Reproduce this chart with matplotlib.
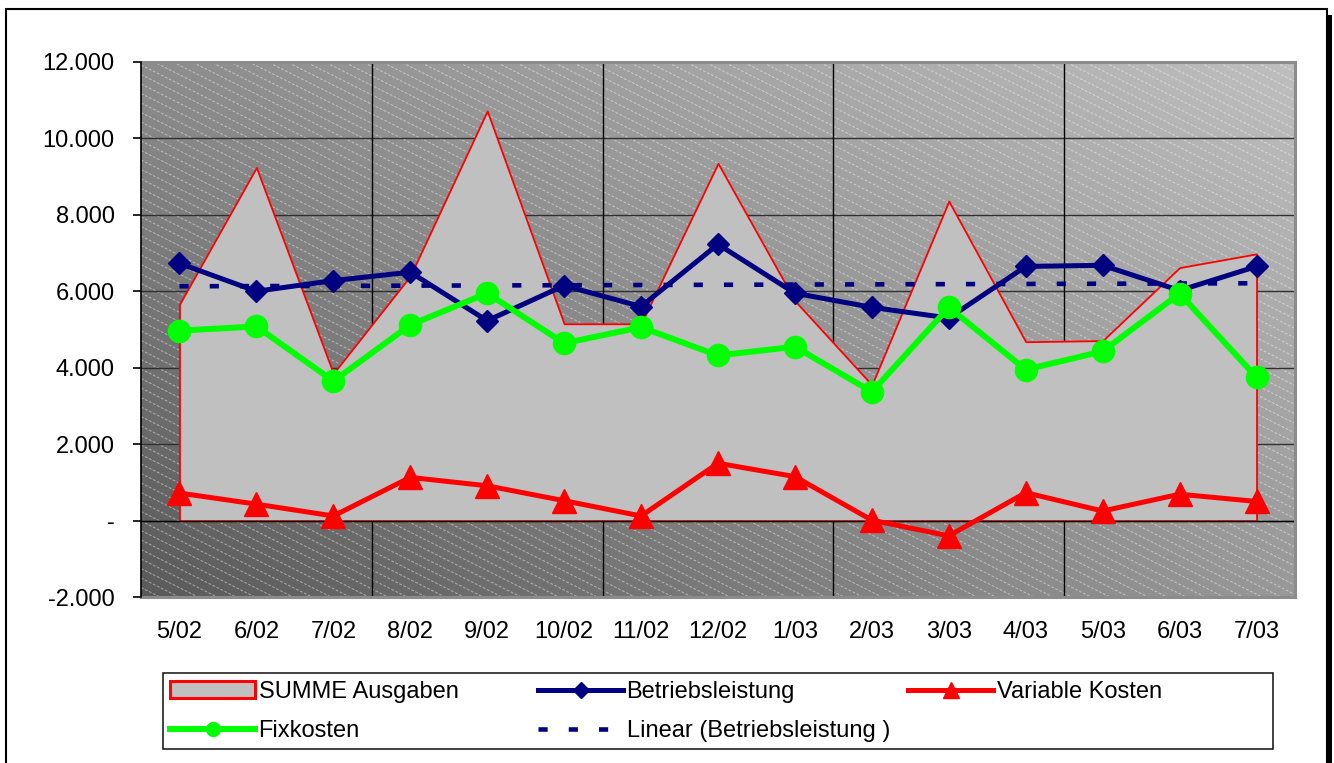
import numpy as np
import matplotlib
matplotlib.use('Agg')
import matplotlib.pyplot as plt
from matplotlib.collections import LineCollection
from matplotlib.patches import Rectangle, Patch
from matplotlib.lines import Line2D

plt.rcParams['font.family'] = ['Liberation Sans', 'DejaVu Sans']

# Daten
monate = ['5/02', '6/02', '7/02', '8/02', '9/02', '10/02', '11/02', '12/02',
          '1/03', '2/03', '3/03', '4/03', '5/03', '6/03', '7/03']
summe_ausgaben = [5660, 9240, 3850, 6400, 10720, 5150, 5150, 9350,
                  5750, 3550, 8360, 4680, 4710, 6620, 6980]
betriebsleistung = [6730, 6000, 6280, 6500, 5230, 6150, 5600, 7230,
                    5950, 5580, 5300, 6650, 6680, 6020, 6650]
variable_kosten = [720, 430, 120, 1130, 910, 520, 120, 1500,
                   1150, 10, -400, 730, 250, 690, 500]
fixkosten = [4970, 5080, 3650, 5120, 5950, 4640, 5060, 4320,
             4550, 3370, 5580, 3950, 4430, 5940, 3750]
y_ticks = [-2000, 0, 2000, 4000, 6000, 8000, 10000, 12000]
y_labels = ['-2.000', '-', '2.000', '4.000', '6.000', '8.000', '10.000', '12.000']

W, H = 1334, 763
fig = plt.figure(figsize=(W / 100, H / 100), dpi=100)
fig.patch.set_facecolor('white')

# Plotbereich
left, right, top, bottom = 141, 1295, 62, 597
ax = fig.add_axes([left / W, 1 - bottom / H, (right - left) / W, (bottom - top) / H])

x = np.arange(len(monate)) + 0.5

# Hintergrund: diagonaler Grauverlauf
gx, gy = np.meshgrid(np.linspace(0, 1, 200), np.linspace(0, 1, 200))
grad = 90 + 100 * (gx + gy) / 2 + 12 * gx * (1 - gy)
ax.imshow(grad, extent=[0, 15, -2000, 12000], origin='lower', aspect='auto',
          cmap='gray', vmin=0, vmax=255, zorder=0, interpolation='bilinear')

# feine helle Schraffur
aw, ah = right - left, bottom - top
segs = []
for c in np.arange(0, ah + 0.5 * aw + 10, 9.5):
    segs.append([(0, c / ah), (1, (c - 0.5 * aw) / ah)])
lc = LineCollection(segs, transform=ax.transAxes, colors=[(1, 1, 1, 0.42)],
                    linewidths=0.8, linestyles=(0, (2.5, 1.5)), zorder=0.5)
ax.add_collection(lc)

# Gitternetz
for yv in y_ticks[1:-1]:
    ax.axhline(yv, color='#303030', lw=1.0, zorder=1)
for xv in [3, 6, 9, 12]:
    ax.axvline(xv, color='black', lw=1.0, zorder=1)

# Flaeche SUMME Ausgaben
ax.fill_between(x, 0, summe_ausgaben, facecolor='#c0c0c0', edgecolor='red',
                lw=1.3, zorder=2)
ax.axhline(0, color='black', lw=1.0, zorder=2.1)

# Trendlinie
k, d = np.polyfit(x, betriebsleistung, 1)
ax.plot(x, k * x + d, color='#000080', lw=3.3, dashes=(2.0, 4.6),
        dash_capstyle='butt', zorder=3)

ax.plot(x, betriebsleistung, color='#000080', lw=3.6, marker='D', ms=11,
        zorder=4)
ax.plot(x, variable_kosten, color='red', lw=3.6, marker='^', ms=17, zorder=5)
ax.plot(x, fixkosten, color='#00ff00', lw=4.3, marker='o', ms=16, zorder=6)

ax.set_xlim(0, 15)
ax.set_ylim(-2000, 12000)
ax.set_xticks(x)
ax.set_xticklabels(monate, fontsize=17)
ax.set_yticks(y_ticks)
ax.set_yticklabels(y_labels, fontsize=17)
ax.tick_params(axis='x', length=0, pad=17)
ax.tick_params(axis='y', length=6, width=1.2, direction='out', pad=13, color='black')

for s in ['top', 'right', 'bottom']:
    ax.spines[s].set_color('#8c8c8c')
    ax.spines[s].set_linewidth(2.2)
ax.spines['left'].set_color('black')
ax.spines['left'].set_linewidth(1.2)
ax.spines['left'].set_zorder(10)

# Legende
h_summe = Patch(facecolor='#c0c0c0', edgecolor='red', lw=2.2)
h_betr = Line2D([], [], color='#000080', lw=3.6, marker='D', ms=8)
h_var = Line2D([], [], color='red', lw=3.6, marker='^', ms=12)
h_fix = Line2D([], [], color='#00ff00', lw=4.3, marker='o', ms=10)
h_lin = Line2D([], [], color='#000080', lw=3.3, dashes=(2.0, 4.6),
               dash_capstyle='butt')

spalten = [
    (170, [h_summe, h_fix], ['SUMME Ausgaben', 'Fixkosten']),
    (538, [h_betr, h_lin], ['Betriebsleistung', 'Linear (Betriebsleistung )']),
    (908, [h_var], ['Variable Kosten']),
]
for xp, hs, ls in spalten:
    leg = fig.legend(hs, ls, loc='upper left', bbox_to_anchor=(xp / W, 1 - 681 / H),
                     frameon=False, fontsize=17, handlelength=3.6,
                     handletextpad=0.15, labelspacing=0.72, borderpad=0,
                     borderaxespad=0)

fig.add_artist(Rectangle((163 / W, 1 - 749 / H), (1273 - 163) / W, (749 - 673) / H,
                         transform=fig.transFigure, fill=False, edgecolor='#202020',
                         lw=1.2))

# Rahmen des Diagramms mit Schatten
fig.add_artist(Rectangle((1327 / W, 0), 5 / W, 1 - 15 / H, transform=fig.transFigure,
                         facecolor='black', edgecolor='none'))
fig.add_artist(Rectangle((6 / W, -0.05), (1327 - 6) / W, 1.05 - 9 / H,
                         transform=fig.transFigure, fill=False, edgecolor='black',
                         lw=1.5))

fig.savefig('out.png', dpi=100)
